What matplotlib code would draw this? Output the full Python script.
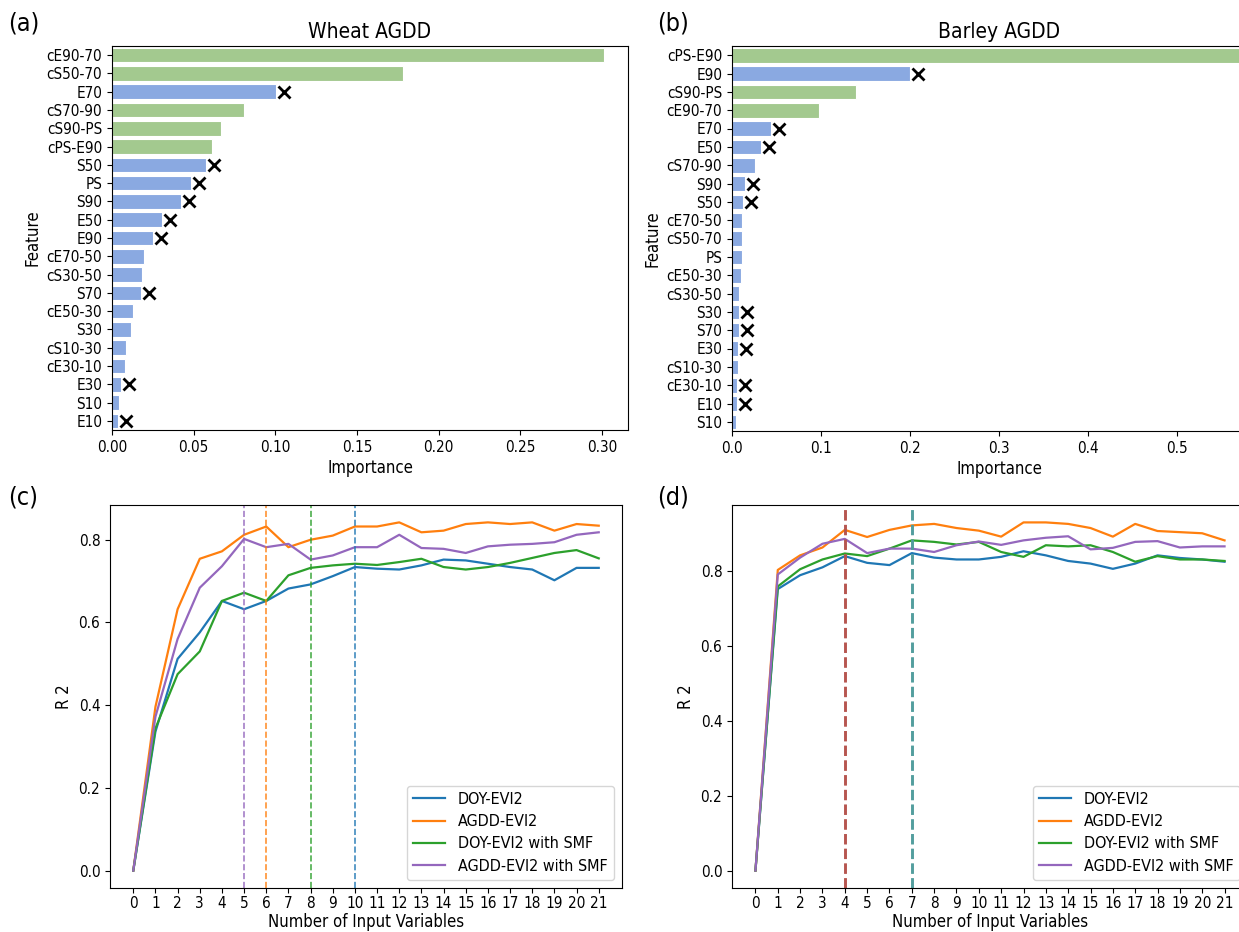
import matplotlib
matplotlib.use("Agg")
import matplotlib.pyplot as plt
import matplotlib.transforms as mtrans
import numpy as np

plt.rcParams['font.family'] = ['DejaVu Sans']
plt.rcParams['font.stretch'] = 'condensed'

# ---------------- data ----------------
wheat_features = ["cE90-70", "cS50-70", "E70", "cS70-90", "cS90-PS", "cPS-E90", "S50", "PS",
                  "S90", "E50", "E90", "cE70-50", "cS30-50", "S70", "cE50-30", "S30",
                  "cS10-30", "cE30-10", "E30", "S10", "E10"]
wheat_importance = [0.3015, 0.178, 0.1003, 0.0809, 0.0668, 0.0613, 0.0575, 0.0482,
                    0.042, 0.0304, 0.0249, 0.0198, 0.0181, 0.0176, 0.013, 0.0118,
                    0.0085, 0.008, 0.0055, 0.0043, 0.0038]
wheat_is_change = [True, True, False, True, True, True, False, False,
                   False, False, False, False, False, False, False, False,
                   False, False, False, False, False]
wheat_marked = ["E70", "S50", "PS", "S90", "E50", "E90", "S70", "E30", "E10"]

barley_features = ["cPS-E90", "E90", "cS90-PS", "cE90-70", "E70", "E50", "cS70-90", "S90",
                   "S50", "cE70-50", "cS50-70", "PS", "cE50-30", "cS30-50", "S30", "S70",
                   "E30", "cS10-30", "cE30-10", "E10", "S10"]
barley_importance = [0.572, 0.200, 0.1396, 0.098, 0.0436, 0.0324, 0.0262, 0.0142,
                     0.0129, 0.0116, 0.011, 0.011, 0.0098, 0.0084, 0.0076, 0.0076,
                     0.0067, 0.0062, 0.0053, 0.0053, 0.004]
barley_is_change = [True, False, True, True, False, False, False, False,
                    False, False, False, False, False, False, False, False,
                    False, False, False, False, False]
barley_marked = ["E90", "E70", "E50", "S90", "S50", "S30", "S70", "E30", "cE30-10", "E10"]

n_vars = list(range(22))
series_names = ["DOY-EVI2", "AGDD-EVI2", "DOY-EVI2 with SMF", "AGDD-EVI2 with SMF"]

wheat_doy = [0.0, 0.336, 0.512, 0.576, 0.652, 0.632, 0.652, 0.682, 0.692, 0.712, 0.734,
             0.730, 0.728, 0.738, 0.752, 0.750, 0.742, 0.734, 0.728, 0.702, 0.732, 0.732]
wheat_agdd = [0.0, 0.396, 0.632, 0.754, 0.772, 0.812, 0.832, 0.782, 0.800, 0.810, 0.832,
              0.832, 0.842, 0.818, 0.822, 0.838, 0.842, 0.838, 0.842, 0.822, 0.838, 0.834]
wheat_doy_smf = [0.0, 0.344, 0.475, 0.530, 0.652, 0.672, 0.652, 0.714, 0.732, 0.738, 0.742,
                 0.739, 0.746, 0.754, 0.734, 0.728, 0.734, 0.744, 0.756, 0.768, 0.775, 0.755]
wheat_agdd_smf = [0.0, 0.372, 0.560, 0.684, 0.736, 0.802, 0.782, 0.790, 0.752, 0.762, 0.782,
                  0.782, 0.812, 0.780, 0.778, 0.768, 0.784, 0.788, 0.790, 0.794, 0.812, 0.818]
wheat_best = [10, 6, 8, 5]

barley_doy = [0.0, 0.752, 0.789, 0.810, 0.840, 0.822, 0.816, 0.848, 0.836, 0.831, 0.831,
              0.838, 0.853, 0.842, 0.827, 0.820, 0.806, 0.820, 0.842, 0.835, 0.831, 0.825]
barley_agdd = [0.0, 0.803, 0.842, 0.863, 0.910, 0.891, 0.910, 0.922, 0.926, 0.915, 0.908,
               0.892, 0.930, 0.930, 0.926, 0.915, 0.892, 0.926, 0.907, 0.904, 0.901, 0.882]
barley_doy_smf = [0.0, 0.759, 0.805, 0.831, 0.847, 0.840, 0.860, 0.882, 0.878, 0.871, 0.878,
                  0.851, 0.838, 0.869, 0.866, 0.869, 0.851, 0.825, 0.840, 0.831, 0.831, 0.827]
barley_agdd_smf = [0.0, 0.791, 0.836, 0.873, 0.886, 0.848, 0.860, 0.860, 0.851, 0.869, 0.879,
                   0.870, 0.882, 0.889, 0.893, 0.858, 0.862, 0.878, 0.880, 0.863, 0.866, 0.866]
barley_best = [7, 4, 7, 4]

line_colors = ["#1f77b4", "#ff7f0e", "#2ca02c", "#9467bd"]
green_bar = "#a3c98f"
blue_bar = "#8aa9e1"

# ---------------- figure ----------------
fig = plt.figure(figsize=(12.39, 9.32), dpi=100)
W, H = 1239, 932


def ax_px(l, r, t, b):
    return fig.add_axes([l / W, 1 - b / H, (r - l) / W, (b - t) / H])


def bar_panel(ax, feats, vals, change, marked, title):
    y = np.arange(len(feats))
    cols = [green_bar if c else blue_bar for c in change]
    ax.barh(y, vals, height=0.8, color=cols, edgecolor="white", linewidth=0.8)
    ax.set_ylim(len(feats) - 0.5, -0.5)
    ax.set_yticks(y)
    ax.set_yticklabels(feats, fontsize=11)
    ax.tick_params(axis="x", labelsize=11)
    ax.set_xlabel("Importance", fontsize=12, labelpad=3)
    ax.set_ylabel("Feature", fontsize=12)
    ax.set_title(title, fontsize=15)
    off = mtrans.offset_copy(ax.transData, fig=fig, x=8, y=0, units="dots")
    mx = [vals[feats.index(f)] for f in marked]
    my = [feats.index(f) for f in marked]
    ax.plot(mx, my, linestyle="none", marker="x", color="black", markersize=8,
            markeredgewidth=2.0, transform=off, clip_on=False)


axA = ax_px(112, 628, 46, 430)
bar_panel(axA, wheat_features, wheat_importance, wheat_is_change, wheat_marked, "Wheat AGDD")
axA.set_xlim(0, 0.316)
axA.set_xticks([0.0, 0.05, 0.10, 0.15, 0.20, 0.25, 0.30])
axA.set_xticklabels(["0.00", "0.05", "0.10", "0.15", "0.20", "0.25", "0.30"])

axB = ax_px(732, 1266, 46, 431)
bar_panel(axB, barley_features, barley_importance, barley_is_change, barley_marked, "Barley AGDD")
axB.set_xlim(0, 0.6)
axB.set_xticks([0.0, 0.1, 0.2, 0.3, 0.4, 0.5])


def line_panel(ax, data, best, vl_colors, vl_lw):
    for vals, name, c in zip(data, series_names, line_colors):
        ax.plot(n_vars, vals, color=c, linewidth=1.6, label=name)
    for xb, c in zip(best, vl_colors):
        ax.axvline(xb, color=c, linestyle="--", linewidth=vl_lw, alpha=0.85)
    ax.set_xticks(n_vars)
    ax.tick_params(labelsize=11)
    ax.tick_params(axis="x", pad=2.5)
    ax.set_xlabel("Number of Input Variables", fontsize=12, labelpad=1)
    ax.set_ylabel("R 2", fontsize=12)
    ax.set_yticks([0.0, 0.2, 0.4, 0.6, 0.8])
    ax.legend(loc="lower right", fontsize=11.5, framealpha=0.8, labelspacing=0.45)


axC = ax_px(110, 622, 505, 888)
line_panel(axC, [wheat_doy, wheat_agdd, wheat_doy_smf, wheat_agdd_smf], wheat_best,
           line_colors, 1.2)
axC.set_xlim(-1.05, 22.05)
axC.set_ylim(-0.042, 0.884)

axD = ax_px(732, 1248, 505, 888)
line_panel(axD, [barley_doy, barley_agdd, barley_doy_smf, barley_agdd_smf], barley_best,
           ["#4f9c9c", "#b5534c", "#4f9c9c", "#b5534c"], 2.0)
axD.set_xlim(-1.05, 22.05)
axD.set_ylim(-0.0465, 0.9765)

for txt, x, y in [("(a)", 8, 24), ("(b)", 657, 24), ("(c)", 8, 498), ("(d)", 657, 498)]:
    fig.text(x / W, 1 - y / H, txt, fontsize=18, va="center", ha="left")

fig.savefig("out.png", dpi=100)
